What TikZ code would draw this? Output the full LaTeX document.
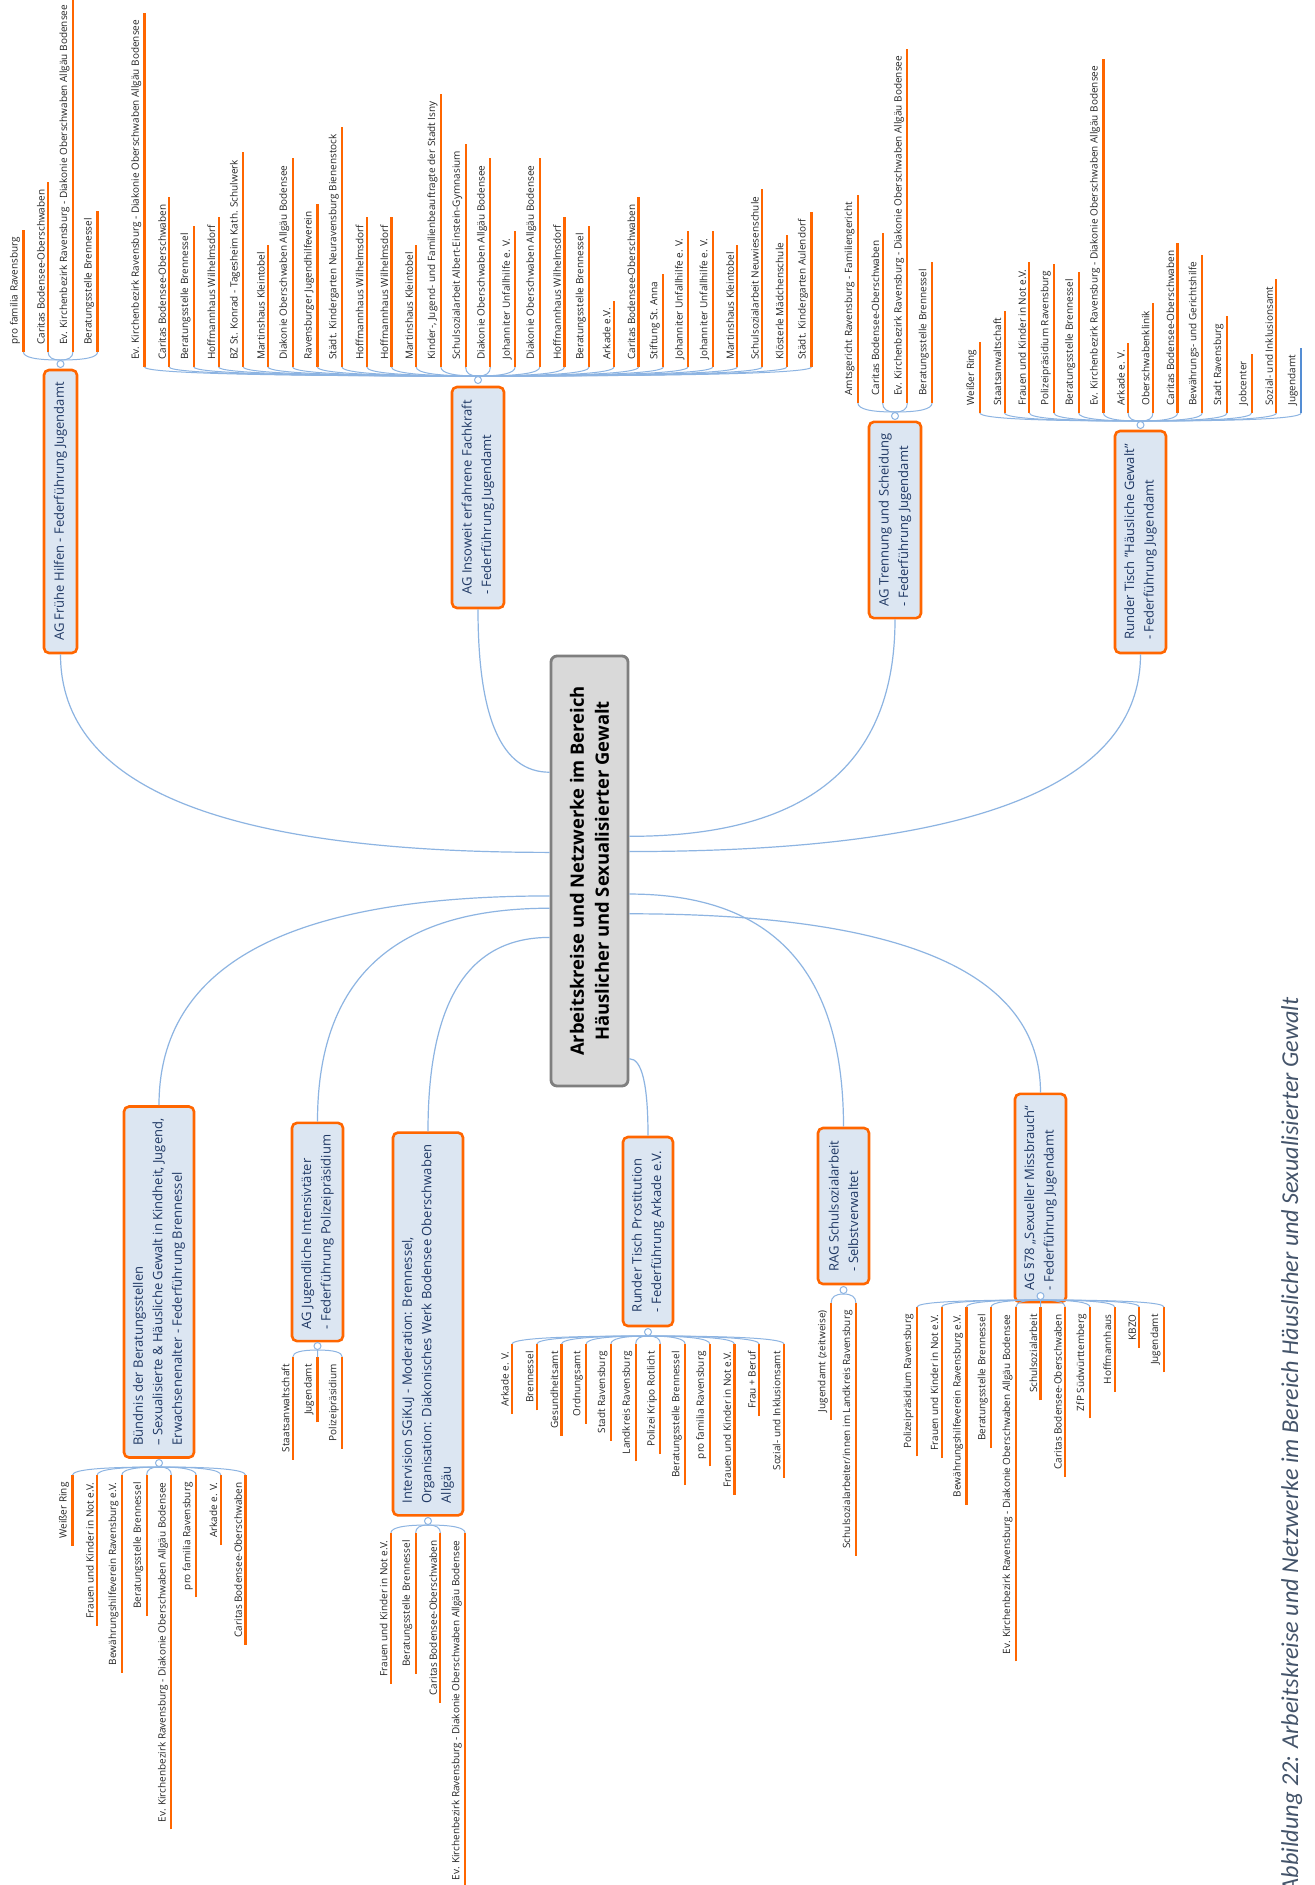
\documentclass[tikz,border=0pt]{standalone}
\usepackage{fontspec}
\setmainfont{Open Sans}
\newfontfamily\capfont{Carlito}
\usepackage{graphicx}
\usetikzlibrary{calc}
\definecolor{orng}{RGB}{255,102,0}
\definecolor{connc}{RGB}{141,180,226}
\definecolor{boxfill}{RGB}{220,230,242}
\definecolor{boxtext}{RGB}{31,56,100}
\definecolor{centerfill}{RGB}{217,217,217}
\definecolor{centerdraw}{RGB}{127,127,127}
\definecolor{captext}{RGB}{68,84,106}
\definecolor{selblue}{RGB}{84,141,212}
\tikzset{
  leaf/.style={rotate=90, font=\fontsize{5}{6}\selectfont, inner xsep=3.5pt, inner ysep=1.5pt, text=black!85},
  leafline/.style={draw=orng, line width=1.1pt},
  conn/.style={draw=connc, line width=0.5pt},
  mainconn/.style={draw=connc, line width=0.6pt},
  branch/.style={rotate=90, draw=orng, line width=1.3pt, fill=boxfill, rounded corners=2.5pt,
    font=\fontsize{6.5}{9.8}\selectfont, text=boxtext, align=left, inner xsep=6pt, inner ysep=0pt},
  ctrbox/.style={draw=centerdraw, fill=centerfill, line width=1.4pt, rounded corners=3pt,
    minimum width=38.5pt, minimum height=215pt, inner sep=0pt, font=\fontsize{9.2}{12.5}\selectfont},
  knob/.style={circle, draw=connc, fill=white, line width=0.5pt, minimum size=3.5pt, inner sep=0pt},
}
% quadratic-like sweep from #2 to #3 with corner (#3 |- #2)
\newcommand\sweep[3][mainconn]{%
  \draw[#1] (#2) .. controls ($(#2)!0.67!(#3 |- #2)$) and ($(#3)!0.67!(#3 |- #2)$) .. (#3);}
\newcommand\topgroup[6]{%
  \foreach \txt [count=\i] in {#6} {
    \node[leaf, anchor=south west] (#1\i) at ({#3+(\i-(#5+1)/2)*24.7}, #4) {\txt};
    \draw[leafline] (#1\i.south west) -- (#1\i.south east);
    \sweep[conn]{#2.north}{#1\i.south west}
  }%
}
\newcommand\botgroup[6]{%
  \foreach \txt [count=\i] in {#6} {
    \node[leaf, anchor=south east] (#1\i) at ({#3+(\i-(#5+1)/2)*24.7}, #4) {\txt};
    \draw[leafline] (#1\i.south west) -- (#1\i.south east);
    \sweep[conn]{#2.south}{#1\i.south east}
  }%
}
\begin{document}
\begin{tikzpicture}[x=0.5pt,y=-0.5pt]
\useasboundingbox (0,0) rectangle (1314,1885);
\clip (0,0) rectangle (1314,1885);
\fill[white] (0,0) rectangle (1314,1885);

% centre
\node[ctrbox] (ctr) at (589.5,871) {\rotatebox{90}{\parbox{205pt}{\centering\bfseries Arbeitskreise und Netzwerke im Bereich\\Häuslicher und Sexualisierter Gewalt}}};

% branch boxes
\node[branch, minimum width=141.5pt, minimum height=16.5pt] (fh) at (60.5,511.5) {AG Frühe Hilfen - Federführung Jugendamt};
\node[branch, minimum width=110.5pt, minimum height=26pt] (ins) at (478,497.5) {AG Insoweit erfahrene Fachkraft\\- Federführung Jugendamt};
\node[branch, minimum width=98pt, minimum height=26pt] (tr) at (895,520) {AG Trennung und Scheidung\\- Federführung Jugendamt};
\node[branch, minimum width=111pt, minimum height=25.5pt] (rtb) at (1140.5,542) {Runder Tisch "Häusliche Gewalt"\\- Federführung Jugendamt};
\node[branch, minimum width=175pt, minimum height=35pt] (bu) at (159,1282) {Bündnis der Beratungsstellen\\– Sexualisierte \& Häusliche Gewalt in Kindheit, Jugend,\\Erwachsenenalter - Federführung Brennessel};
\node[branch, minimum width=107pt, minimum height=25.5pt] (jg) at (317.5,1232) {AG Jugendliche Intensivtäter\\- Federführung Polizeipräsidium};
\node[branch, minimum width=191pt, minimum height=35pt] (iv) at (428,1324) {Intervision SGiKuJ - Moderation: Brennessel,\\Organisation: Diakonisches Werk Bodensee Oberschwaben\\Allgäu};
\node[branch, minimum width=94.5pt, minimum height=25pt] (pr) at (648,1231.5) {Runder Tisch Prostitution\\- Federführung Arkade e.V.};
\node[branch, minimum width=78pt, minimum height=25.5pt] (rag) at (843.5,1206) {RAG Schulsozialarbeit\\- Selbstverwaltet};
\node[branch, minimum width=92pt, minimum height=25.5pt] (ag) at (1040.5,1198) {AG §78 „Sexueller Missbrauch“\\- Federführung Jugendamt};

% knobs
\node[knob] (fhk) at (60.5,364) {};
\node[knob] (insk) at (478,380) {};
\node[knob] (trk) at (895,416) {};
\node[knob] (rtk) at (1140.5,425) {};
\node[knob] (buk) at (159,1463) {};
\node[knob] (jgk) at (317.5,1346) {};
\node[knob] (ivk) at (428,1521) {};
\node[knob] (prk) at (648,1332) {};
\node[knob] (ragk) at (843.5,1290) {};
\node[knob] (agk) at (1040.5,1296) {};

% main connectors
\sweep{ctr.155}{fh.west}
\sweep{ctr.112}{ins.west}
\sweep{ctr.41}{tr.west}
\sweep{ctr.26}{rtb.west}
\sweep{ctr.212}{bu.east}
\sweep{ctr.223}{jg.east}
\sweep{ctr.239}{iv.east}
\sweep{ctr.282}{pr.east}
\sweep{ctr.330}{rag.east}
\sweep{ctr.313}{ag.east}

% leaf groups
\topgroup{fhL}{fhk}{60.5}{352}{4}{pro familia Ravensburg, Caritas Bodensee-Oberschwaben, Ev. Kirchenbezirk Ravensburg - Diakonie Oberschwaben Allgäu Bodensee, Beratungsstelle Brennessel}
\topgroup{insL}{insk}{478}{367}{28}{Ev. Kirchenbezirk Ravensburg - Diakonie Oberschwaben Allgäu Bodensee, Caritas Bodensee-Oberschwaben, Beratungsstelle Brennessel, Hoffmannhaus Wilhelmsdorf, BZ St. Konrad - Tagesheim Kath. Schulwerk, Martinshaus Kleintobel, Diakonie Oberschwaben Allgäu Bodensee, Ravensburger Jugendhilfeverein, Städt. Kindergarten Neuravensburg Bienenstock, Hoffmannhaus Wilhelmsdorf, Hoffmannhaus Wilhelmsdorf, Martinshaus Kleintobel, {Kinder-, Jugend- und Familienbeauftragte der Stadt Isny}, Schulsozialarbeit Albert-Einstein-Gymnasium, Diakonie Oberschwaben Allgäu Bodensee, Johanniter Unfallhilfe e. V., Diakonie Oberschwaben Allgäu Bodensee, Hoffmannhaus Wilhelmsdorf, Beratungsstelle Brennessel, Arkade e.V., Caritas Bodensee-Oberschwaben, Stiftung St. Anna, Johanniter Unfallhilfe e. V., Johanniter Unfallhilfe e. V., Martinshaus Kleintobel, Schulsozialarbeit Neuwiesenschule, Klösterle Mädchenschule, Städt. Kindergarten Aulendorf}
\topgroup{trL}{trk}{895}{403}{4}{Amtsgericht Ravensburg - Familiengericht, Caritas Bodensee-Oberschwaben, Ev. Kirchenbezirk Ravensburg - Diakonie Oberschwaben Allgäu Bodensee, Beratungsstelle Brennessel}
\topgroup{rtL}{rtk}{1140.5}{413}{14}{Weißer Ring, Staatsanwaltschaft, Frauen und Kinder in Not e.V., Polizeipräsidium Ravensburg, Beratungsstelle Brennessel, Ev. Kirchenbezirk Ravensburg - Diakonie Oberschwaben Allgäu Bodensee, Arkade e. V., Oberschwabenklinik, Caritas Bodensee-Oberschwaben, Bewährungs- und Gerichtshilfe, Stadt Ravensburg, Jobcenter, Sozial- und Inklusionsamt, Jugendamt}
\draw[draw=selblue, line width=1.1pt] (rtL14.south west) -- (rtL14.south east);

\botgroup{buL}{buk}{159}{1475}{8}{Weißer Ring, Frauen und Kinder in Not e.V., Bewährungshilfeverein Ravensburg e.V., Beratungsstelle Brennessel, Ev. Kirchenbezirk Ravensburg - Diakonie Oberschwaben Allgäu Bodensee, pro familia Ravensburg, Arkade e. V., Caritas Bodensee-Oberschwaben}
\botgroup{jgL}{jgk}{317.5}{1357}{3}{Staatsanwaltschaft, Jugendamt, Polizeipräsidium}
\botgroup{ivL}{ivk}{428}{1533}{4}{Frauen und Kinder in Not e.V., Beratungsstelle Brennessel, Caritas Bodensee-Oberschwaben, Ev. Kirchenbezirk Ravensburg - Diakonie Oberschwaben Allgäu Bodensee}
\botgroup{prL}{prk}{648}{1344}{12}{Arkade e. V., Brennessel, Gesundheitsamt, Ordnungsamt, Stadt Ravensburg, Landkreis Ravensburg, Polizei Kripo Rotlicht, Beratungsstelle Brennessel, pro familia Ravensburg, Frauen und Kinder in Not e.V., Frau + Beruf, Sozial- und Inklusionsamt}
\botgroup{ragL}{ragk}{843.5}{1303}{2}{Jugendamt (zeitweise), Schulsozialarbeiter/innen im Landkreis Ravensburg}
\botgroup{agL}{agk}{1040.5}{1307}{11}{Polizeipräsidium Ravensburg, Frauen und Kinder in Not e.V., Bewährungshilfeverein Ravensburg e.V., Beratungsstelle Brennessel, Ev. Kirchenbezirk Ravensburg - Diakonie Oberschwaben Allgäu Bodensee, Schulsozialarbeit, Caritas Bodensee-Oberschwaben, ZfP Südwürttemberg, Hoffmannhaus, KBZO, Jugendamt}

% caption
\node[rotate=90, anchor=base east, inner sep=0pt, font=\capfont\itshape\fontsize{12.12}{14}\selectfont, text=captext] (cap) at (1298,997) {Abbildung 22: Arbeitskreise und Netzwerke im Bereich Häuslicher und Sexualisierter Gewalt};
\end{tikzpicture}
\end{document}
